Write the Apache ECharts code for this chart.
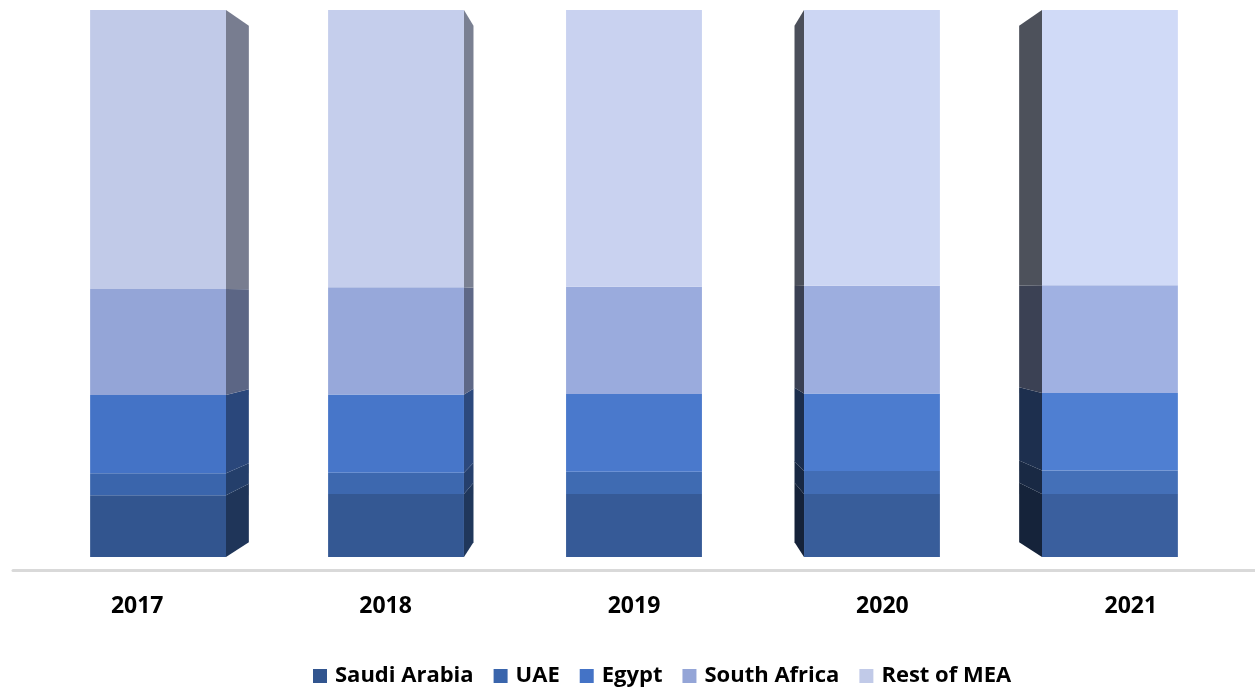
<!DOCTYPE html>
<html>
<head>
<meta charset="utf-8">
<script src="https://cdn.jsdelivr.net/npm/echarts@6/dist/echarts.min.js"></script>
<style>
html,body{margin:0;padding:0;background:#fff;}
#main{width:1255px;height:687px;}
</style>
</head>
<body>
<div id="main"></div>
<script>
var years = ['2017', '2018', '2019', '2020', '2021'];
var seriesNames = ['Saudi Arabia', 'UAE', 'Egypt', 'South Africa', 'Rest of MEA'];
var saudiArabia = [11.3, 11.5, 11.5, 11.5, 11.5];
var uae = [4.0, 3.9, 4.1, 4.2, 4.3];
var egypt = [14.3, 14.3, 14.2, 14.2, 14.2];
var southAfrica = [19.4, 19.6, 19.6, 19.7, 19.7];
var restOfMEA = [51.0, 50.7, 50.6, 50.4, 50.3];

var values = [saudiArabia, uae, egypt, southAfrica, restOfMEA];
// front colours for first and last bar (lighting shifts slightly across the chart)
var colorsFirst = ['#32558f', '#3a65ac', '#4473c6', '#94a5d7', '#c1cae8'];
var colorsLast  = ['#3a5f9e', '#4470b8', '#4f7fd2', '#a0b1e2', '#d0daf7'];

function hexToRgb(h){h=h.replace('#','');return [parseInt(h.substr(0,2),16),parseInt(h.substr(2,2),16),parseInt(h.substr(4,2),16)];}
function mix(a,b,t){var A=hexToRgb(a),B=hexToRgb(b);return [0,1,2].map(function(k){return Math.round(A[k]+(B[k]-A[k])*t);});}
function rgb(c,f){f=f||1;return 'rgb('+Math.round(c[0]*f)+','+Math.round(c[1]*f)+','+Math.round(c[2]*f)+')';}

var DEPTH = 0.056;
var SHIFT = 0.042;
var WIDTH_RATIO = 0.547;

function makeRender(s){
  return function(params, api){
    var i = api.value(0);
    var v0 = api.value(1), v1 = api.value(2);
    var c = api.coord([i, v0]);
    var cTop = api.coord([i, v1]);
    var vx = api.coord([(years.length-1)/2, 0])[0];
    var vy = api.coord([0, 48.3])[1];
    var band = api.size([1, 0])[0];
    var w = band * WIDTH_RATIO;
    var fx = c[0] + (vx - c[0]) * SHIFT;
    var xl = fx - w/2, xr = fx + w/2;
    var yb = c[1], yt = cTop[1];
    var t = i / (years.length - 1);
    var col = mix(colorsFirst[s], colorsLast[s], t);
    var children = [];
    var edge = null, factor = 1;
    if (fx < vx - 1) { edge = xr; factor = 0.62; }
    else if (fx > vx + 1) { edge = xl; factor = 0.37; }
    if (edge !== null) {
      var bx = edge + (vx - edge) * DEPTH;
      var byT = yt + (vy - yt) * DEPTH;
      var byB = yb + (vy - yb) * DEPTH;
      children.push({
        type: 'polygon',
        shape: {points: [[edge, yt], [bx, byT], [bx, byB], [edge, yb]]},
        style: {fill: rgb(col, factor)}
      });
    }
    children.push({
      type: 'rect',
      shape: {x: xl, y: yt, width: w, height: yb - yt},
      style: {fill: rgb(col)}
    });
    return {type: 'group', children: children};
  };
}

var series = seriesNames.map(function(name, s){
  var data = years.map(function(y, i){
    var start = 0;
    for (var k = 0; k < s; k++) start += values[k][i];
    return [i, start, start + values[s][i]];
  });
  return {
    name: name,
    type: 'custom',
    renderItem: makeRender(s),
    encode: {x: 0, y: [1, 2]},
    itemStyle: {color: colorsFirst[s]},
    clip: false,
    data: data,
    z: 2
  };
});

var chart = echarts.init(document.getElementById('main'), null, {renderer: 'canvas'});
chart.setOption({
  animation: false,
  backgroundColor: '#ffffff',
  grid: {left: 13, right: 0, top: 10, bottom: 117, containLabel: false},
  xAxis: {
    type: 'category',
    data: years,
    axisLine: {show: true, onZero: false, lineStyle: {color: '#d9d9d9', width: 3}},
    axisTick: {show: false},
    axisLabel: {margin: 25, color: '#000', fontFamily: 'Open Sans', fontWeight: 'bold', fontSize: 23}
  },
  yAxis: {
    type: 'value', min: -2.377, max: 100, show: false,
    splitLine: {show: false}
  },
  legend: {
    left: 308, top: 660,
    icon: 'rect', itemWidth: 14, itemHeight: 14, itemGap: 20,
    textStyle: {color: '#000', fontFamily: 'Open Sans', fontWeight: 'bold', fontSize: 22, padding: [0,0,0,3]},
    data: seriesNames
  },
  series: series
});
</script>
</body>
</html>
